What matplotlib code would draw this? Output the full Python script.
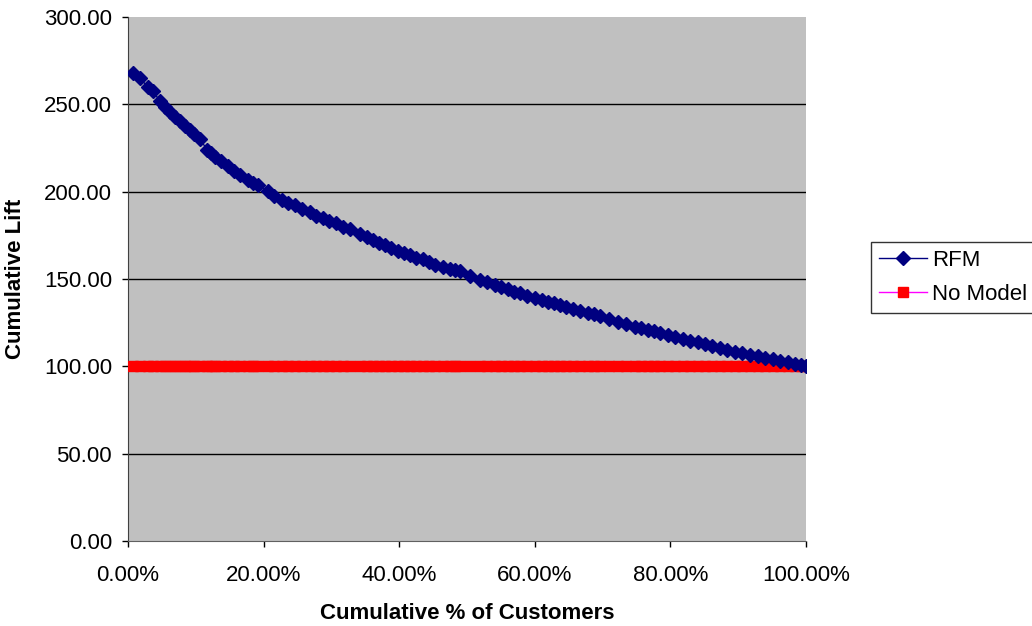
import numpy as np
import matplotlib.pyplot as plt
from matplotlib.ticker import FuncFormatter, MultipleLocator

plt.rcParams['font.family'] = ['Liberation Sans', 'DejaVu Sans']

# cumulative share of customers (%) and cumulative lift of the RFM model
pct_customers = [0.7, 1.8, 2.9, 3.7, 4.7, 5.4, 6.2, 6.9, 7.7, 8.4, 9.1, 9.8,
                 10.6, 11.7, 12.2, 12.8, 13.7, 14.7, 15.6, 16.5, 17.7, 18.4,
                 19.2, 20.6, 21.6, 22.7, 23.6, 24.6, 25.6, 26.8, 27.8, 28.8,
                 29.7, 30.7, 31.7, 32.7, 34.2, 35.2, 36.1, 37.0, 37.9, 38.8,
                 39.8, 40.7, 41.6, 42.5, 43.5, 44.4, 45.3, 46.4, 47.5, 48.3,
                 49.0, 50.4, 51.9, 53.0, 54.1, 55.0, 56.0, 56.9, 57.8, 58.9,
                 60.0, 61.0, 61.9, 62.8, 63.7, 64.6, 65.6, 66.7, 67.8, 68.7,
                 69.6, 70.9, 72.3, 73.5, 74.8, 75.7, 76.7, 77.6, 78.5, 79.6,
                 80.7, 81.8, 82.9, 84.0, 85.1, 86.2, 87.3, 88.4, 89.5, 90.6,
                 91.7, 92.9, 94.0, 95.1, 96.2, 97.3, 98.4, 99.2, 100.0]
rfm_lift = [267.9, 265.0, 259.9, 257.6, 251.8, 248.5, 245.5, 243.0, 240.3,
            237.8, 235.2, 232.8, 230.0, 224.0, 222.0, 220.0, 217.5, 214.5,
            212.0, 209.4, 206.5, 205.0, 203.6, 200.2, 197.5, 195.0, 193.6,
            192.2, 190.0, 188.1, 186.3, 184.7, 183.2, 181.8, 180.0, 178.4,
            175.5, 173.8, 172.1, 170.6, 169.2, 167.7, 166.3, 164.9, 163.5,
            162.3, 161.2, 159.7, 158.3, 157.0, 155.5, 154.9, 154.3, 152.0,
            149.7, 148.2, 146.8, 145.4, 144.0, 142.8, 141.7, 140.5, 139.4,
            138.2, 137.1, 136.2, 135.4, 134.2, 133.1, 131.9, 130.8, 129.9,
            129.0, 127.3, 125.6, 124.2, 122.8, 121.9, 121.0, 120.1, 119.3,
            118.1, 117.0, 115.8, 114.7, 113.8, 113.0, 111.8, 110.7, 109.5,
            108.4, 107.5, 106.7, 105.8, 105.0, 104.1, 103.3, 102.4, 101.5,
            101.0, 100.4]
no_model_lift = [100.0] * len(pct_customers)

fig = plt.figure(figsize=(10.32, 6.26), dpi=100)
ax = fig.add_axes([128 / 1032, 85 / 626, 678 / 1032, 524 / 626])
ax.set_facecolor('#C0C0C0')

ax.plot(pct_customers, no_model_lift, color='#FF00FF', lw=1,
        marker='s', markersize=7, markerfacecolor='#FF0000',
        markeredgecolor='#FF0000', label='No Model', zorder=3)
ax.plot(pct_customers, rfm_lift, color='#000080', lw=1,
        marker='D', markersize=7.5, markerfacecolor='#000080',
        markeredgecolor='#000080', label='RFM', zorder=4)

ax.set_xlim(0, 100)
ax.set_ylim(0, 300)
ax.xaxis.set_major_locator(MultipleLocator(20))
ax.yaxis.set_major_locator(MultipleLocator(50))
ax.xaxis.set_major_formatter(FuncFormatter(lambda v, p: f'{v:.2f}%'))
ax.yaxis.set_major_formatter(FuncFormatter(lambda v, p: f'{v:.2f}'))

for y in range(50, 300, 50):
    ax.axhline(y, color='black', lw=1, zorder=1)

for side in ['top', 'right']:
    ax.spines[side].set_visible(False)
ax.spines['left'].set_color('#404040')
ax.spines['bottom'].set_color('#606060')
ax.tick_params(direction='out', length=4.5, width=1, labelsize=16,
               colors='black')
ax.tick_params(axis='y', pad=7)
ax.tick_params(axis='x', pad=13)

ax.set_xlabel('Cumulative % of Customers', fontsize=16, fontweight='bold',
              labelpad=12)
ax.set_ylabel('Cumulative Lift', fontsize=16, fontweight='bold',
              labelpad=13)

handles, labels = ax.get_legend_handles_labels()
leg = ax.legend(handles[::-1], labels[::-1], loc='upper left',
                bbox_to_anchor=(871 / 1032, 1 - 242 / 626),
                bbox_transform=fig.transFigure, borderaxespad=0,
                frameon=True, fancybox=False, fontsize=16, borderpad=0.35,
                handlelength=2.15, handletextpad=0.25, markerscale=1.0,
                labelspacing=0.6)
leg.get_frame().set_edgecolor('black')
leg.get_frame().set_linewidth(1)

fig.savefig('out.png', dpi=100)
